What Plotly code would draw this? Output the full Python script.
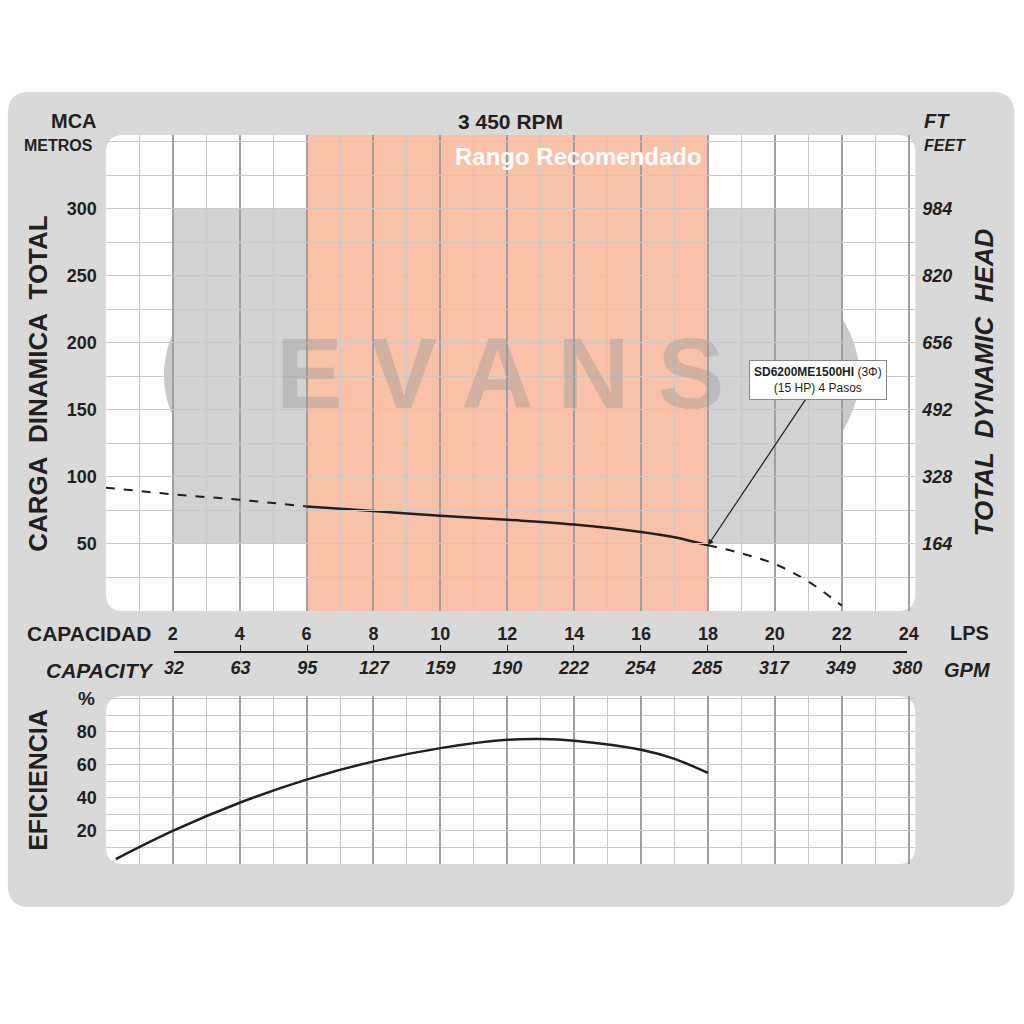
import plotly.graph_objects as go

# pump curve data (LPS vs metros)
head_lps_left = [0, 2, 4, 6]
head_m_left = [92, 87, 83, 78]
head_lps_mid = [6, 8, 10, 12, 14, 16, 17, 18]
head_m_mid = [78, 74.5, 71, 68, 64.5, 59, 55, 49]
head_lps_right = [18, 19, 20, 21, 22]
head_m_right = [49, 43, 35, 22, 4]

eff_lps = [0.3, 2, 4, 6, 8, 10, 12, 13, 14, 16, 17, 18]
eff_pct = [3, 20, 37, 51, 62, 70, 75, 75.5, 74.5, 69, 63.5, 55]

lps_ticks = [2, 4, 6, 8, 10, 12, 14, 16, 18, 20, 22, 24]
gpm_labels = ["32", "63", "95", "127", "159", "190", "222", "254", "285", "317", "349", "380"]
m_ticks = [50, 100, 150, 200, 250, 300]
ft_labels = ["164", "328", "492", "656", "820", "984"]
eff_ticks = [20, 40, 60, 80]

FONT = "Liberation Sans"
DARK = "#231f20"


def px(x):
    # horizontal correction measured from the rendered page
    return ((x - 10.2) / 0.975) / 1024


def py(y):
    return 1 - y / 1024


def rounded(x0, y0, x1, y1, r):
    # rounded rectangle path in paper coords (pixel input)
    X0, X1 = px(x0), px(x1)
    Y0, Y1 = py(y0), py(y1)
    rx, ry = r / 1024, r / 1024
    return (f"M{X0+rx},{Y0} L{X1-rx},{Y0} Q{X1},{Y0} {X1},{Y0-ry} "
            f"L{X1},{Y1+ry} Q{X1},{Y1} {X1-rx},{Y1} L{X0+rx},{Y1} "
            f"Q{X0},{Y1} {X0},{Y1+ry} L{X0},{Y0-ry} Q{X0},{Y0} {X0+rx},{Y0} Z")


fig = go.Figure()
fig.add_trace(go.Scatter(x=head_lps_left, y=head_m_left, mode="lines",
                         line=dict(color=DARK, width=2, dash="dash"), xaxis="x", yaxis="y"))
fig.add_trace(go.Scatter(x=head_lps_mid, y=head_m_mid, mode="lines",
                         line=dict(color=DARK, width=2.5, shape="spline"), xaxis="x", yaxis="y"))
fig.add_trace(go.Scatter(x=head_lps_right, y=head_m_right, mode="lines",
                         line=dict(color=DARK, width=2, dash="dash", shape="spline"), xaxis="x", yaxis="y"))
fig.add_trace(go.Scatter(x=[0], y=[0], mode="markers", opacity=0, xaxis="x", yaxis="y2"))
fig.add_trace(go.Scatter(x=[2], y=[0], mode="markers", opacity=0, xaxis="x3", yaxis="y"))
fig.add_trace(go.Scatter(x=eff_lps, y=eff_pct, mode="lines",
                         line=dict(color=DARK, width=2.5, shape="spline"), xaxis="x2", yaxis="y3"))

xr = [0, 24.2]
top_dom = [py(611), py(135)]
bot_dom = [py(864), py(696)]
xdom = [px(106), px(915)]
grid_minor = dict(dtick=1, showgrid=True, gridcolor="#c9c9c9", gridwidth=1)
tickfont = dict(family=FONT, size=18, color=DARK, weight="bold")
itfont = dict(family=FONT, size=18, color=DARK, weight="bold", style="italic")

fig.update_layout(
    width=1024, height=1024, autosize=False, showlegend=False,
    margin=dict(l=0, r=0, t=0, b=0),
    paper_bgcolor="white", plot_bgcolor="rgba(0,0,0,0)",
    xaxis=dict(domain=xdom, range=xr, anchor="y", tickvals=lps_ticks, showgrid=True,
               gridcolor="#a0a0a0", gridwidth=1.5, minor=grid_minor, ticks="",
               tickfont=tickfont, ticklabelstandoff=10, zeroline=False),
    yaxis=dict(domain=top_dom, range=[0, 355], tickvals=m_ticks, showgrid=True,
               gridcolor="#c9c9c9", minor=dict(dtick=25, showgrid=True, gridcolor="#c9c9c9"),
               tickfont=tickfont, ticklabelstandoff=8, zeroline=False),
    yaxis2=dict(overlaying="y", side="right", range=[0, 355], tickvals=m_ticks,
                ticktext=ft_labels, showgrid=False, tickfont=itfont, ticklabelstandoff=6,
                zeroline=False),
    xaxis3=dict(domain=[px(174), px(907)], range=[2, 24], anchor="free",
                position=py(652), side="bottom", showline=True, linecolor=DARK, linewidth=1.5,
                ticks="inside", ticklen=6, tickcolor=DARK, tickvals=lps_ticks,
                ticktext=gpm_labels, tickfont=itfont, showgrid=False, zeroline=False),
    xaxis2=dict(domain=xdom, range=xr, anchor="y3", showticklabels=False, tickvals=lps_ticks,
                showgrid=True, gridcolor="#a0a0a0", gridwidth=1.5, minor=grid_minor,
                zeroline=False),
    yaxis3=dict(domain=bot_dom, range=[0, 101.5], tickvals=eff_ticks, showgrid=True,
                gridcolor="#c9c9c9", minor=dict(dtick=10, showgrid=True, gridcolor="#c9c9c9"),
                tickfont=tickfont, ticklabelstandoff=8, zeroline=False),
)

shapes = [
    dict(type="path", path=rounded(8, 92, 1014, 907, 22), fillcolor="#d9d9da",
         line=dict(width=0), xref="paper", yref="paper", layer="below"),
    dict(type="path", path=rounded(106, 135, 915, 611, 18), fillcolor="white",
         line=dict(width=0), xref="paper", yref="paper", layer="below"),
    dict(type="path", path=rounded(106, 696, 915, 864, 18), fillcolor="white",
         line=dict(width=0), xref="paper", yref="paper", layer="below"),
    dict(type="rect", x0=2, x1=22, y0=50, y1=300, xref="x", yref="y",
         fillcolor="#d1d2d4", line=dict(width=0), layer="below"),
    dict(type="rect", x0=6, x1=18, y0=0, y1=355, xref="x", yref="y",
         fillcolor="#f9c2a8", line=dict(width=0), layer="below"),
]
# EVANS watermark ellipses
for (x0, y0, x1, y1, w) in [(175, 205, 848, 545, 22), (200, 232, 822, 520, 5), (188, 220, 835, 532, 3)]:
    shapes.append(dict(type="circle", x0=px(x0), x1=px(x1), y0=py(y1), y1=py(y0),
                       xref="paper", yref="paper", line=dict(color="rgba(150,150,150,0.5)", width=w),
                       layer="between"))
fig.update_layout(shapes=shapes)

ann = []


def txt(x, y, s, size=18, italic=False, angle=0, color=DARK, xanchor="center"):
    f = dict(family=FONT, size=size, color=color, weight="bold")
    if italic:
        f["style"] = "italic"
    ann.append(dict(x=px(x), y=py(y), xref="paper", yref="paper", text=s, showarrow=False,
                    font=f, textangle=angle, xanchor=xanchor, yanchor="middle"))


ann.append(dict(x=px(500), y=py(373), xref="paper", yref="paper", text="E V A N S", showarrow=False,
                font=dict(family=FONT, size=100, color="rgba(150,150,150,0.38)", weight="bold")))
txt(74, 121, "MCA", 20)
txt(59, 145, "METROS", 16)
txt(510, 121, "3 450 RPM", 21)
txt(937, 121, "FT", 20, italic=True)
txt(945, 145, "FEET", 16, italic=True)
txt(578, 156, "Rango Recomendado", 24, color="white")
txt(38, 383, "CARGA  DINAMICA  TOTAL", 26, angle=-90)
txt(984, 382, "TOTAL  DYNAMIC  HEAD", 26, italic=True, angle=-90)
txt(89, 633, "CAPACIDAD", 21)
txt(969, 633, "LPS", 20)
txt(100, 670, "CAPACITY", 21, italic=True)
txt(967, 670, "GPM", 20, italic=True)
txt(38, 780, "EFICIENCIA", 25, angle=-90)
txt(87, 698, "%", 19)
ann.append(dict(x=18, y=49, xref="x", yref="y", ax=21.3, ay=172, axref="x", ayref="y",
                text="<b>SD6200ME1500HI</b> (3Φ)<br>(15 HP) 4 Pasos", showarrow=True,
                arrowhead=2, arrowsize=1, arrowwidth=1.2, arrowcolor=DARK,
                bgcolor="white", bordercolor="#888", borderwidth=1, borderpad=4,
                font=dict(family=FONT, size=12, color=DARK)))
fig.update_layout(annotations=ann)

fig.write_html("out.html", config={"displayModeBar": False},
               default_width="1024px", default_height="1024px",
               post_script="document.body.style.margin='0';document.body.style.overflow='hidden';")
